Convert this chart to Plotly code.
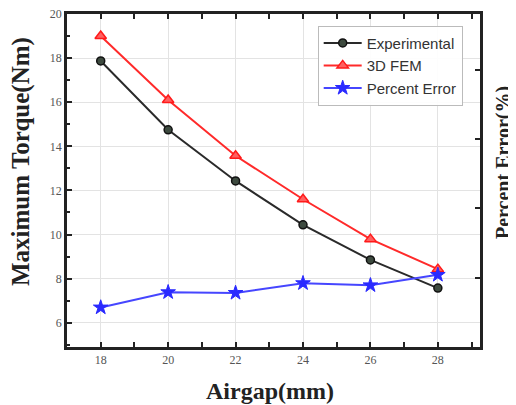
import plotly.graph_objects as go

airgap = [18, 20, 22, 24, 26, 28]
experimental = [17.87, 14.75, 12.43, 10.44, 8.85, 7.57]
fem_3d = [19.0, 16.1, 13.57, 11.6, 9.79, 8.43]
percent_error = [5.7, 7.9, 7.8, 9.2, 8.9, 10.4]

x_ticks = [18, 20, 22, 24, 26, 28]
y_ticks = [6, 8, 10, 12, 14, 16, 18, 20]

serif = "Liberation Serif"
sans = "Liberation Sans"

fig = go.Figure()
fig.add_trace(go.Scatter(
    x=airgap, y=experimental, name="Experimental", mode="lines+markers",
    line=dict(color="#2a2a2a", width=2),
    marker=dict(symbol="circle", size=8, color="#3d4a3f", line=dict(color="#111", width=1.5)),
))
fig.add_trace(go.Scatter(
    x=airgap, y=fem_3d, name="3D FEM", mode="lines+markers",
    line=dict(color="#ff2a2a", width=2),
    marker=dict(symbol="triangle-up", size=10, color="#ff6060", line=dict(color="#ff1a1a", width=1.5)),
))
fig.add_trace(go.Scatter(
    x=airgap, y=percent_error, name="Percent Error", mode="lines+markers",
    line=dict(color="#4646ff", width=2),
    marker=dict(symbol="star", size=11, color="#2a2aff", line=dict(color="#2a2aff", width=1)),
    yaxis="y2",
))

tick_style = dict(ticks="inside", ticklen=5, tickwidth=2, tickcolor="#222")
minor_style = dict(ticks="inside", ticklen=3, tickwidth=2, tickcolor="#222", showgrid=False)

# page body has an 8px default margin, so the figure is sized 8px smaller
fig.update_layout(
    width=508, height=397,
    margin=dict(l=59, r=36, t=6, b=58, autoexpand=False),
    paper_bgcolor="white", plot_bgcolor="white",
    showlegend=True,
    legend=dict(
        x=0.607, y=0.965, xanchor="left", yanchor="top",
        bgcolor="rgba(255,255,255,0.9)", bordercolor="#bbbbbb", borderwidth=1,
        font=dict(family=sans, size=15, color="#333"),
        tracegroupgap=0, itemwidth=38,
    ),
    xaxis=dict(
        range=[17.0, 29.25], tickvals=x_ticks, ticktext=[str(v) for v in x_ticks],
        **tick_style,
        minor=dict(dtick=1, tick0=18, **minor_style),
        showline=True, linecolor="#222", linewidth=2.5, mirror="allticks",
        showgrid=True, gridcolor="#e3e3e3", gridwidth=1, zeroline=False,
        tickfont=dict(family=serif, size=12, color="#555"), automargin=False,
        ticklabeloverflow="allow",
    ),
    yaxis=dict(
        range=[4.9, 20], tickvals=y_ticks, ticktext=[str(v) for v in y_ticks],
        **tick_style,
        minor=dict(dtick=1, tick0=6, **minor_style),
        showline=True, linecolor="#222", linewidth=2.5,
        showgrid=True, gridcolor="#e3e3e3", gridwidth=1, zeroline=False,
        tickfont=dict(family=serif, size=12, color="#555"), automargin=False,
        ticklabeloverflow="allow",
    ),
    yaxis2=dict(
        overlaying="y", side="right", range=[0, 48],
        tickvals=[0, 10, 20, 30, 40], showticklabels=False,
        **tick_style,
        showline=True, linecolor="#222", linewidth=2.5,
        showgrid=False, zeroline=False, automargin=False,
    ),
    annotations=[
        dict(text="<b>Airgap(mm)</b>", xref="paper", yref="paper", x=(270 - 67) / 413,
             y=-(391 - 347) / 333, xanchor="center", yanchor="middle", showarrow=False,
             font=dict(family=serif, size=24, color="#222")),
        dict(text="<b>Maximum Torque(Nm)</b>", xref="paper", yref="paper", x=-(67 - 21) / 413,
             y=(347 - 162) / 333, xanchor="center", yanchor="middle", showarrow=False, textangle=-90,
             font=dict(family=serif, size=25, color="#222")),
        dict(text="<b>Percent Error(%)</b>", xref="paper", yref="paper", x=1 + (503 - 480) / 413,
             y=(347 - 162) / 333, xanchor="center", yanchor="middle", showarrow=False, textangle=-90,
             font=dict(family=serif, size=20, color="#222")),
    ],
)

fig.write_html("out.html")
